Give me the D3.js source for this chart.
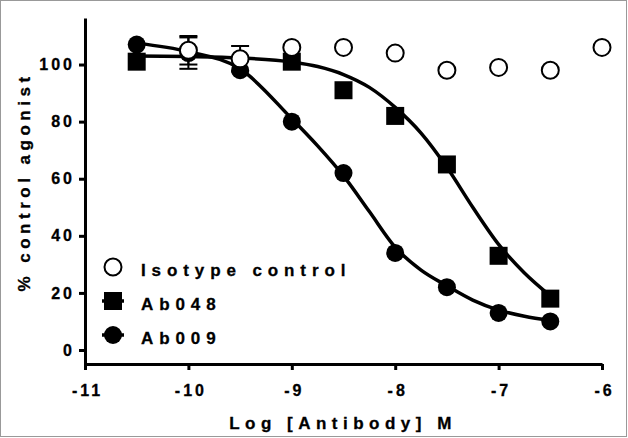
<!DOCTYPE html>
<html>
<head>
<meta charset="utf-8">
<script src="https://cdn.jsdelivr.net/npm/d3@7"></script>
<style>
  body { margin: 0; background: #fff; }
  text { font-family: "Liberation Sans", Arial, sans-serif; font-weight: bold; fill: #000; stroke: #000; stroke-width: 0.3px; }
</style>
</head>
<body>
<div id="grafico"></div>
<script>
// tick labels
const xTicks = [-11, -10, -9, -8, -7, -6];
const yTicks = [0, 20, 40, 60, 80, 100];

// measured points (log M, % control agonist)
const isoX = [-10, -9.5, -9, -8.5, -8, -7.5, -7, -6.5, -6];
const isoY = [105, 102, 106, 106, 104, 98, 99, 98, 106];
const isoErr = [5, 4.5, 0, 0, 0, 0, 0, 0, 0];

const ab048X = [-10.5, -9, -8.5, -8, -7.5, -7, -6.5];
const ab048Y = [101, 101, 91, 82, 65, 33, 18];

const ab009X = [-10.5, -10, -9.5, -9, -8.5, -8, -7.5, -7, -6.5];
const ab009Y = [107, 104, 98, 80, 62, 34, 22, 13, 10];
const ab009Err = [0, 5.5, 0, 0, 0, 0, 0, 0, 0];

// fitted curves
const fitX = [-10.5, -10, -9.5, -9, -8.75, -8.5, -8.25, -8, -7.75, -7.5, -7.25, -7, -6.75, -6.5];
const fit048 = [103, 102.8, 102.3, 100.9, 99.3, 96.5, 92, 85, 76, 64, 50, 37, 27, 19];
const fit009 = [107.5, 104.5, 98.5, 81, 71.5, 61, 48.5, 36, 28, 22.5, 17.5, 14, 11.8, 10.3];

const legendItems = ["Isotype control", "Ab048", "Ab009"];

const width = 628;
const height = 438;

const svg = d3.select("#grafico")
  .append("svg")
  .attr("width", width)
  .attr("height", height);

// marco gris
svg.append("rect")
  .attr("x", 0.5).attr("y", 0.5)
  .attr("width", 626).attr("height", 436)
  .attr("fill", "none")
  .attr("stroke", "#999");

const x = d3.scaleLinear().domain([-11, -6]).range([85, 602]);
const y = d3.scaleLinear().domain([-4.9, 116.3]).range([364, 18]);

// Eje X
const gx = svg.append("g")
  .attr("transform", "translate(0,364)")
  .call(d3.axisBottom(x).tickValues(xTicks).tickSize(6).tickSizeOuter(0).tickFormat((d) => String(d)));
gx.select(".domain").attr("stroke-width", 3);
gx.selectAll(".tick line").attr("stroke-width", 3);
gx.selectAll(".tick text")
  .attr("y", 21)
  .attr("dx", 2)
  .style("font-size", "16px")
  .style("letter-spacing", "3px")
  .style("font-family", "Liberation Sans, Arial, sans-serif")
  .style("font-weight", "bold");

// Eje Y
const gy = svg.append("g")
  .attr("transform", "translate(85,0)")
  .call(d3.axisLeft(y).tickValues(yTicks).tickSize(6).tickSizeOuter(0));
gy.select(".domain").attr("stroke-width", 3);
gy.selectAll(".tick line").attr("stroke-width", 3);
gy.selectAll(".tick text")
  .attr("x", -10)
  .style("font-size", "16px")
  .style("letter-spacing", "3px")
  .style("font-family", "Liberation Sans, Arial, sans-serif")
  .style("font-weight", "bold");

// Titulos
svg.append("text")
  .attr("x", 343)
  .attr("y", 429)
  .attr("text-anchor", "middle")
  .style("font-size", "17px")
  .style("letter-spacing", "5.5px")
  .text("Log [Antibody] M");

svg.append("text")
  .attr("transform", "translate(30,182) rotate(-90)")
  .attr("text-anchor", "middle")
  .style("font-size", "17px")
  .style("letter-spacing", "4.5px")
  .text("% control agonist");

// Curvas
const line = d3.line()
  .x((d) => x(d[0]))
  .y((d) => y(d[1]))
  .curve(d3.curveMonotoneX);

[fit009, fit048].forEach((f) => {
  svg.append("path")
    .datum(fitX.map((v, i) => [v, f[i]]))
    .attr("d", line)
    .attr("fill", "none")
    .attr("stroke", "#000")
    .attr("stroke-width", 3.5);
});

// barras de error
function errorBars(xs, ys, errs) {
  xs.forEach((v, i) => {
    if (!errs[i]) return;
    const g = svg.append("g").attr("stroke", "#000").attr("stroke-width", 2);
    g.append("line")
      .attr("x1", x(v)).attr("x2", x(v))
      .attr("y1", y(ys[i] + errs[i])).attr("y2", y(ys[i] - errs[i]));
    [ys[i] + errs[i], ys[i] - errs[i]].forEach((e) => {
      g.append("line")
        .attr("x1", x(v) - 9).attr("x2", x(v) + 9)
        .attr("y1", y(e)).attr("y2", y(e));
    });
  });
}

const circle = d3.symbol().type(d3.symbolCircle).size(Math.PI * 9 * 9);
const square = d3.symbol().type(d3.symbolSquare).size(18 * 18);

errorBars(ab009X, ab009Y, ab009Err);

svg.append("g")
  .selectAll("path")
  .data(ab009X.map((v, i) => [v, ab009Y[i]]))
  .join("path")
  .attr("transform", (d) => `translate(${x(d[0])},${y(d[1])})`)
  .attr("d", circle)
  .attr("fill", "#000");

svg.append("g")
  .selectAll("path")
  .data(ab048X.map((v, i) => [v, ab048Y[i]]))
  .join("path")
  .attr("transform", (d) => `translate(${x(d[0])},${y(d[1])})`)
  .attr("d", square)
  .attr("fill", "#000");

errorBars(isoX, isoY, isoErr);

svg.append("g")
  .selectAll("circle")
  .data(isoX.map((v, i) => [v, isoY[i]]))
  .join("circle")
  .attr("cx", (d) => x(d[0]))
  .attr("cy", (d) => y(d[1]))
  .attr("r", 8.5)
  .attr("fill", "#fff")
  .attr("stroke", "#000")
  .attr("stroke-width", 2);

// Leyenda
const legend = svg.append("g").attr("transform", "translate(113, 267)");
legendItems.forEach((name, i) => {
  const g = legend.append("g").attr("transform", `translate(0, ${i * 34})`);
  if (i === 0) {
    g.append("circle")
      .attr("r", 8.5)
      .attr("fill", "#fff")
      .attr("stroke", "#000")
      .attr("stroke-width", 2);
  } else {
    g.append("line")
      .attr("x1", -11).attr("x2", 11)
      .attr("stroke", "#000")
      .attr("stroke-width", 3.5);
    g.append("path")
      .attr("d", i === 1 ? square : circle)
      .attr("fill", "#000");
  }
  g.append("text")
    .attr("x", 28)
    .attr("y", 9)
    .style("font-size", "17px")
    .style("letter-spacing", "5.9px")
    .text(name);
});
</script>
</body>
</html>
